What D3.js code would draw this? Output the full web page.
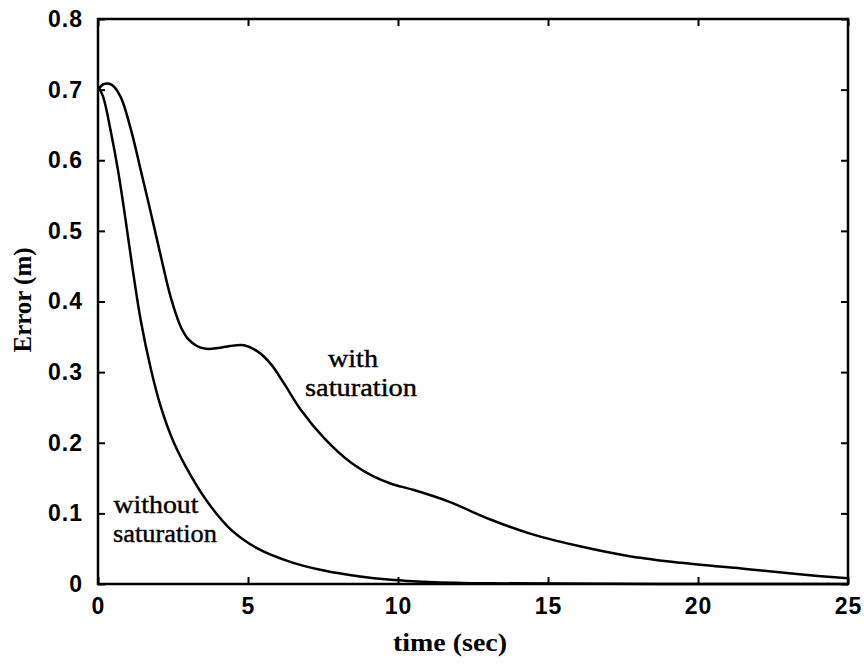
<!DOCTYPE html>
<html><head><meta charset="utf-8">
<script src="https://cdn.jsdelivr.net/npm/d3@7"></script>
<style>body{margin:0;background:#fff}</style>
</head><body>
<svg id="c" width="864" height="664"></svg>
<script>
const xTicks = [0, 5, 10, 15, 20, 25];
const yTicks = [0, 0.1, 0.2, 0.3, 0.4, 0.5, 0.6, 0.7, 0.8];
const yTickLabels = ["0", "0.1", "0.2", "0.3", "0.4", "0.5", "0.6", "0.7", "0.8"];

const withTime = [0, 0.2, 0.45, 0.75, 1.1, 1.43, 1.77, 2.1, 2.43, 2.75, 3.0, 3.3, 3.6, 4.0, 4.4, 4.87, 5.33, 5.77, 6.2, 6.77, 7.53, 8.43, 9.2, 9.77, 10.53, 11.67, 13.1, 14.43, 16.1, 17.77, 19.43, 21.67, 23.3, 25];
const withErr  = [0.700, 0.708, 0.707, 0.690, 0.643, 0.585, 0.524, 0.463, 0.405, 0.365, 0.347, 0.337, 0.333, 0.334, 0.337, 0.338, 0.329, 0.311, 0.284, 0.246, 0.207, 0.172, 0.152, 0.142, 0.133, 0.117, 0.091, 0.071, 0.053, 0.039, 0.030, 0.021, 0.014, 0.008];

const withoutTime = [0, 0.17, 0.43, 0.67, 0.87, 1.1, 1.43, 1.77, 2.1, 2.53, 3.1, 3.67, 4.43, 5.33, 6.43, 7.53, 8.67, 9.77, 11, 13, 25];
const withoutErr  = [0.705, 0.690, 0.640, 0.585, 0.530, 0.462, 0.372, 0.303, 0.250, 0.200, 0.153, 0.115, 0.077, 0.050, 0.031, 0.019, 0.011, 0.006, 0.003, 0.001, 0];

const svg = d3.select("#c");
const L = 98, R = 848, T = 19, B = 584;
const x = d3.scaleLinear().domain([0, 25]).range([L, R]);
const y = d3.scaleLinear().domain([0, 0.8]).range([B, T]);

const g = svg.append("g");

const tl = 7;
function styleAxis(sel){
  sel.select(".domain").remove();
  sel.selectAll(".tick line").attr("stroke","#000").attr("stroke-width",2);
}
g.append("g").attr("transform",`translate(0,${B})`)
  .call(d3.axisBottom(x).tickValues(xTicks).tickSize(-tl).tickPadding(14).tickFormat(d3.format("d")))
  .call(styleAxis)
  .selectAll("text").attr("font-family","Liberation Sans, Arial, sans-serif").attr("font-weight","bold").attr("font-size",23).attr("letter-spacing",1).attr("fill","#000");
g.append("g").attr("transform",`translate(0,${T})`)
  .call(d3.axisTop(x).tickValues(xTicks).tickSize(-tl).tickFormat(""))
  .call(styleAxis);
g.append("g").attr("transform",`translate(${L},0)`)
  .call(d3.axisLeft(y).tickValues(yTicks).tickSize(-tl).tickPadding(15).tickFormat((d,i)=>yTickLabels[i]))
  .call(styleAxis)
  .selectAll("text").attr("font-family","Liberation Sans, Arial, sans-serif").attr("font-weight","bold").attr("font-size",23).attr("letter-spacing",1).attr("fill","#000");
g.append("g").attr("transform",`translate(${R},0)`)
  .call(d3.axisRight(y).tickValues(yTicks).tickSize(-tl).tickFormat(""))
  .call(styleAxis);

g.append("rect").attr("x",L).attr("y",T).attr("width",R-L).attr("height",B-T)
  .attr("fill","none").attr("stroke","#000").attr("stroke-width",2.5);

const line = d3.line().x(d=>x(d[0])).y(d=>y(d[1])).curve(d3.curveCatmullRom.alpha(0.5));
g.append("path").datum(withTime.map((t,i)=>[t,withErr[i]]))
  .attr("d",line).attr("fill","none").attr("stroke","#000").attr("stroke-width",2.5);
g.append("path").datum(withoutTime.map((t,i)=>[t,withoutErr[i]]))
  .attr("d",line).attr("fill","none").attr("stroke","#000").attr("stroke-width",2.5);

const serif = "Liberation Serif, Times New Roman, serif";
function label(txt, cx, by, w){
  g.append("text").attr("x",cx).attr("y",by).attr("text-anchor","middle")
   .attr("font-family",serif).attr("font-size",25).attr("fill","#000")
   .attr("stroke","#000").attr("stroke-width",0.4)
   .attr("textLength",w).attr("lengthAdjust","spacingAndGlyphs").text(txt);
}
label("with", 353, 367, 50);
label("saturation", 361, 396, 112);
label("without", 156, 513, 85);
label("saturation", 165, 542, 104);

g.append("text").attr("x",450).attr("y",651).attr("text-anchor","middle")
  .attr("font-family",serif).attr("font-weight","bold").attr("font-size",25).attr("fill","#000")
  .attr("textLength",114).attr("lengthAdjust","spacingAndGlyphs").text("time (sec)");
g.append("text").attr("transform","translate(31,300) rotate(-90)").attr("text-anchor","middle")
  .attr("font-family",serif).attr("font-weight","bold").attr("font-size",25).attr("fill","#000")
  .attr("textLength",105).attr("lengthAdjust","spacingAndGlyphs").text("Error (m)");
</script>
</body></html>
